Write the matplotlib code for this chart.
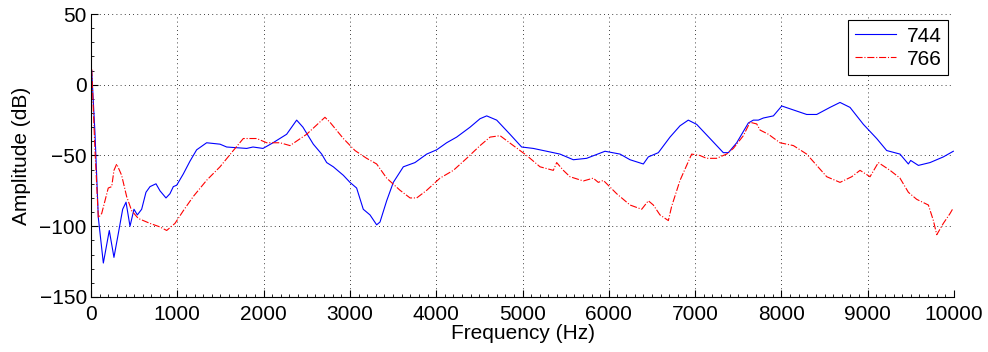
import matplotlib
matplotlib.use("Agg")
import matplotlib.pyplot as plt
from matplotlib.ticker import MultipleLocator

plt.rcParams['font.family'] = ['Liberation Sans', 'DejaVu Sans']

# DATA
freq_744 = [8, 46, 85, 143, 212, 266, 317, 367, 406, 452, 498, 537, 587, 637, 684, 753, 800,
            869, 915, 954, 993, 1070, 1147, 1224, 1340, 1495, 1572, 1804, 1877, 1993, 2109,
            2267, 2383, 2456, 2576, 2673, 2731, 2808, 2924, 3001, 3078, 3155, 3233, 3310,
            3349, 3426, 3503, 3619, 3754, 3890, 4005, 4121, 4237, 4392, 4508, 4585, 4701,
            4855, 4990, 5125, 5280, 5434, 5589, 5743, 5956, 6130, 6246, 6400, 6458, 6574,
            6709, 6825, 6921, 7018, 7173, 7327, 7385, 7482, 7617, 7675, 7733, 7791, 7907,
            8004, 8100, 8293, 8409, 8563, 8679, 8795, 8950, 9104, 9220, 9374, 9471, 9498,
            9587, 9722, 9876, 9992]
amp_744 = [10, -34, -94, -126, -103, -122, -105, -88, -83, -100, -88, -92, -88, -76, -72, -70,
           -75, -80, -77, -72, -71, -63, -54, -46, -41, -42, -44, -45, -44, -45, -41, -35,
           -25, -30, -42, -49, -55, -58, -64, -69, -73, -88, -92, -99, -97, -82, -69, -58,
           -55, -49, -46, -41, -37, -30, -24, -22, -25, -35, -44, -45, -47, -49, -53, -52,
           -47, -49, -53, -56, -51, -48, -37, -29, -25, -28, -38, -48, -48, -41, -27, -25,
           -25, -23.5, -22, -15, -17, -21, -21, -16, -12.5, -16, -28, -38, -46.5, -49, -56,
           -53.5, -57, -55, -51, -47]

freq_766 = [8, 46, 85, 124, 162, 200, 240, 266, 298, 355, 413, 471, 548, 684, 800, 877, 973,
            1070, 1185, 1340, 1495, 1649, 1765, 1920, 2036, 2190, 2306, 2499, 2711, 2769,
            2924, 3059, 3194, 3310, 3426, 3581, 3697, 3774, 3890, 4044, 4199, 4353, 4508,
            4624, 4740, 4894, 5049, 5203, 5357, 5396, 5473, 5550, 5705, 5820, 5878, 5937,
            6091, 6246, 6381, 6458, 6516, 6593, 6690, 6728, 6825, 6902, 6960, 7056, 7133,
            7249, 7365, 7443, 7559, 7636, 7714, 7752, 7849, 7984, 8139, 8293, 8409, 8525,
            8679, 8815, 8911, 9027, 9123, 9259, 9374, 9471, 9568, 9703, 9761, 9800, 9876,
            9954, 9992]
amp_766 = [11, -46, -94, -91, -82, -73, -72, -60.5, -56, -64, -79, -89, -94.5, -98, -100.5,
           -103, -98, -89, -79, -67.5, -58, -46.5, -38, -38, -41, -41, -43, -35, -23, -26.5,
           -38, -46.5, -52, -56, -66, -74.6, -80, -80, -74.6, -66, -60.5, -52, -43, -37, -36,
           -43, -50, -58, -60.5, -55, -60.5, -65, -68, -66, -69, -67.6, -77, -85, -88, -82,
           -85, -92, -96, -86, -67.6, -57, -49, -50, -52, -52, -49, -45, -36, -26.5, -27.7,
           -32, -35, -41, -43, -49, -57, -65, -69, -65, -60.5, -65, -55, -60.5, -66, -76,
           -81, -85, -96, -106, -98, -91, -87]

# FIGURE
fig = plt.figure(figsize=(9.88, 3.52), dpi=100)
ax = fig.add_axes([0.0921, 0.1563, 0.8735, 0.8039])

ax.plot(freq_744, amp_744, color=(0, 0, 1), linewidth=0.8, label='744')
ax.plot(freq_766, amp_766, color=(1, 0, 0), linewidth=0.8, linestyle='-.', label='766')

# AXES, GRID AND LEGEND (MATLAB look, box off)
ax.set_xlim(0, 10000)
ax.set_ylim(-150, 50)
ax.set_xticks(range(0, 10001, 1000))
ax.set_yticks(range(-150, 51, 50))
ax.xaxis.set_minor_locator(MultipleLocator(100))
ax.yaxis.set_minor_locator(MultipleLocator(10))
ax.spines['top'].set_visible(False)
ax.spines['right'].set_visible(False)
ax.tick_params(which='major', direction='in', labelsize=15, length=5, pad=3)
ax.tick_params(axis='x', which='major', pad=6)
ax.tick_params(which='minor', direction='in', length=2.5)
ax.grid(True, which='major', linestyle=(0, (1, 4)), color='black', linewidth=0.6)
ax.set_xlabel('Frequency (Hz)', fontsize=15, labelpad=0)
ax.set_ylabel('Amplitude (dB)', fontsize=15, labelpad=6)
leg = ax.legend(loc='upper right', fontsize=15, fancybox=False, framealpha=1,
                edgecolor='black', handlelength=2.0, borderaxespad=0.3,
                borderpad=0.3, labelspacing=0.2, handletextpad=0.5)
leg.get_frame().set_linewidth(0.8)

fig.savefig('out.png', dpi=100)
